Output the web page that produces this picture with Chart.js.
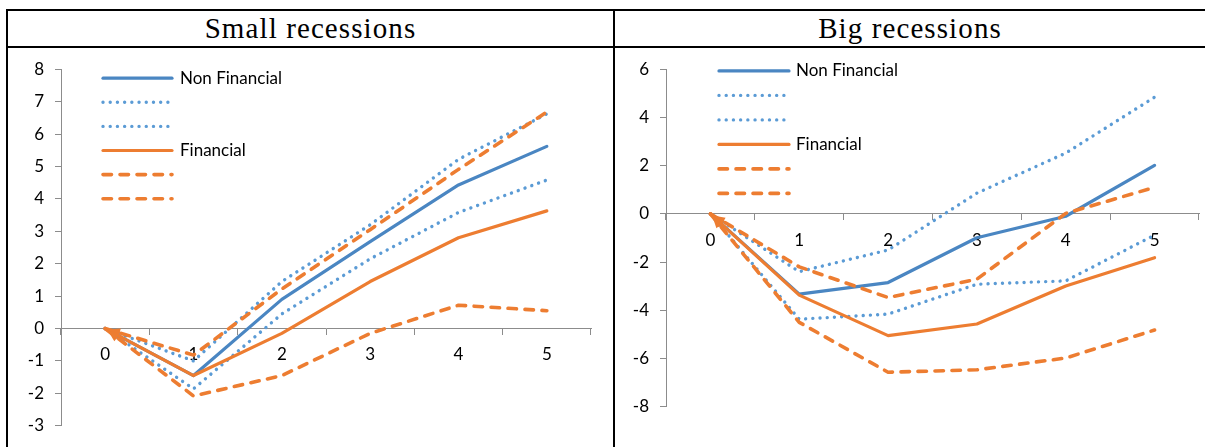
<!DOCTYPE html>
<html>
<head>
<meta charset="utf-8">
<script src="https://cdn.jsdelivr.net/npm/chart.js@4.4.1/dist/chart.umd.min.js"></script>
<style>
  html, body { margin: 0; padding: 0; background: #fff; }
  body { position: relative; width: 1205px; height: 447px; overflow: hidden; }
  .rule { position: absolute; background: #000; }
  .head {
    position: absolute; top: 11px; height: 35px;
    display: flex; align-items: center; justify-content: center;
    font-family: "Liberation Serif", serif; font-size: 29px; letter-spacing: 1.1px; color: #000;
  }
  .cell { position: absolute; top: 48px; height: 399px; }
  .cell canvas { display: block; }
</style>
</head>
<body>
<div class="rule" style="left:6px; top:9px; width:1199px; height:2px"></div>
<div class="rule" style="left:6px; top:46px; width:1199px; height:2px"></div>
<div class="rule" style="left:6px; top:9px; width:2px; height:438px"></div>
<div class="rule" style="left:613px; top:9px; width:2px; height:438px"></div>
<div class="head" style="left:8px; width:605px">Small recessions</div>
<div class="head" style="left:615px; width:590px">Big recessions</div>
<div class="cell" style="left:8px; width:605px"><canvas id="small" width="605" height="399"></canvas></div>
<div class="cell" style="left:615px; width:590px"><canvas id="big" width="590" height="399"></canvas></div>

<script>
// Years after the start of the recession
const years = ['0', '1', '2', '3', '4', '5'];

// Small recessions
const smallNonFin   = [0, -1.45, 0.90, 2.68, 4.43, 5.62];
const smallNonFinHi = [0, -1.00, 1.45, 3.20, 5.22, 6.62];
const smallNonFinLo = [0, -1.86, 0.45, 2.15, 3.58, 4.58];
const smallFin      = [0, -1.45, -0.15, 1.45, 2.80, 3.63];
const smallFinHi    = [0, -0.82, 1.22, 3.05, 4.91, 6.68];
const smallFinLo    = [0, -2.08, -1.45, -0.15, 0.72, 0.55];

// Big recessions
const bigNonFin   = [0, -3.33, -2.85, -0.99, -0.10, 2.01];
const bigNonFinHi = [0, -2.40, -1.50, 0.86, 2.52, 4.84];
const bigNonFinLo = [0, -4.37, -4.16, -2.92, -2.78, -0.88];
const bigFin      = [0, -3.37, -5.05, -4.57, -2.99, -1.82];
const bigFinHi    = [0, -2.20, -3.47, -2.71, 0.02, 1.10];
const bigFinLo    = [0, -4.50, -6.57, -6.47, -5.98, -4.82];

// Axis ranges and tick steps
const smallTicks = { min: -3, max: 8, step: 1 };
const bigTicks   = { min: -8, max: 6, step: 2 };

const BLUE = '#4a86c2';
const BLUE_LIGHT = '#5b9bd5';
const ORANGE = '#ed7d31';
const AXIS = '#8c8c8c';
const LABEL_FONT = { family: 'Lato', size: 17 };

const solid  = { borderWidth: 3.2, borderDash: [], borderCapStyle: 'round' };
const dotted = { borderWidth: 3.4, borderDash: [0.01, 7.2], borderCapStyle: 'round' };
const dashed = { borderWidth: 3.6, borderDash: [8.5, 8.5], borderCapStyle: 'round' };

function series(label, data, color, style, arrow) {
  return Object.assign({
    label, data,
    borderColor: color, backgroundColor: color,
    pointRadius: 0, pointHoverRadius: 0,
    tension: 0, fill: false,
    borderJoinStyle: 'round',
    startArrow: !!arrow
  }, style);
}

function buildSets(nf, nfHi, nfLo, f, fHi, fLo) {
  const sets = [
    series('Non Financial', nf, BLUE, solid),
    series('', nfHi, BLUE_LIGHT, dotted),
    series('', nfLo, BLUE_LIGHT, dotted),
    series('Financial', f, ORANGE, solid, true),
    series('', fHi, ORANGE, dashed, true),
    series('', fLo, ORANGE, dashed, true)
  ];
  // later series are painted on top
  sets.forEach((s, i) => { s.order = sets.length - i; });
  return sets;
}

// Legend drawn inside the plot area: line samples stacked vertically
const insetLegend = {
  id: 'insetLegend',
  afterDraw(chart, args, opts) {
    const ctx = chart.ctx;
    const area = chart.chartArea;
    const x0 = area.left + opts.dx;
    const y0 = area.top + opts.dy;
    chart.data.datasets.forEach((ds, i) => {
      const y = y0 + i * opts.rowGap;
      ctx.save();
      ctx.strokeStyle = ds.borderColor;
      ctx.lineWidth = ds.borderWidth;
      ctx.lineCap = ds.borderCapStyle;
      ctx.setLineDash(ds.borderDash);
      ctx.beginPath();
      ctx.moveTo(x0, y);
      ctx.lineTo(x0 + opts.sample, y);
      ctx.stroke();
      if (ds.label) {
        ctx.setLineDash([]);
        ctx.fillStyle = '#000';
        ctx.font = `${LABEL_FONT.size}px ${LABEL_FONT.family}`;
        ctx.textBaseline = 'middle';
        ctx.textAlign = 'left';
        ctx.fillText(ds.label, x0 + opts.sample + opts.textGap, y);
      }
      ctx.restore();
    });
  }
};

// Arrowhead at the first point of flagged series
const startArrows = {
  id: 'startArrows',
  afterDatasetsDraw(chart) {
    const ctx = chart.ctx;
    chart.data.datasets.forEach((ds, i) => {
      if (!ds.startArrow) return;
      const pts = chart.getDatasetMeta(i).data;
      if (pts.length < 2) return;
      const p0 = pts[0], p1 = pts[1];
      const dx = p1.x - p0.x, dy = p1.y - p0.y;
      const len = Math.hypot(dx, dy);
      const ux = dx / len, uy = dy / len;
      const L = 12, W = 4.5;
      const tx = p0.x + ux * 3, ty = p0.y + uy * 3;
      const bx = tx + ux * L, by = ty + uy * L;
      ctx.save();
      ctx.fillStyle = ds.borderColor;
      ctx.beginPath();
      ctx.moveTo(tx, ty);
      ctx.lineTo(bx - uy * W, by + ux * W);
      ctx.lineTo(bx + uy * W, by - ux * W);
      ctx.closePath();
      ctx.fill();
      ctx.restore();
    });
  }
};

function makeChart(id, sets, ticks, layout, legend) {
  return new Chart(document.getElementById(id), {
    type: 'line',
    data: { labels: years, datasets: sets },
    options: {
      responsive: false,
      animation: false,
      events: [],
      layout: { padding: layout.padding },
      plugins: {
        legend: { display: false },
        tooltip: { enabled: false },
        insetLegend: legend
      },
      scales: {
        x: {
          type: 'category',
          position: { y: 0 },
          offset: true,
          grid: {
            offset: true, drawOnChartArea: false, drawTicks: true,
            tickLength: 6, color: AXIS, lineWidth: 1
          },
          border: { display: true, color: AXIS, width: 1 },
          ticks: { color: '#000', font: LABEL_FONT, padding: 10, maxRotation: 0 }
        },
        y: {
          type: 'linear',
          position: 'left',
          min: ticks.min, max: ticks.max,
          grid: {
            drawOnChartArea: false, drawTicks: true,
            tickLength: 6, color: AXIS, lineWidth: 1
          },
          border: { display: true, color: AXIS, width: 1 },
          ticks: { stepSize: ticks.step, color: '#000', font: LABEL_FONT, padding: 11 },
          afterFit(scale) { scale.width = layout.axisWidth; }
        }
      }
    },
    plugins: [insetLegend, startArrows]
  });
}

makeChart('small',
  buildSets(smallNonFin, smallNonFinHi, smallNonFinLo, smallFin, smallFinHi, smallFinLo),
  smallTicks,
  { axisWidth: 53, padding: { left: 0, right: 22, top: 18.7, bottom: 17.7 } },
  { dx: 42, dy: 9, rowGap: 24.1, sample: 69, textGap: 8 });

makeChart('big',
  buildSets(bigNonFin, bigNonFinHi, bigNonFinLo, bigFin, bigFinHi, bigFinLo),
  bigTicks,
  { axisWidth: 51, padding: { left: 0, right: 6, top: 19.3, bottom: 40.3 } },
  { dx: 53, dy: 1.7, rowGap: 24.5, sample: 70, textGap: 7 });
</script>
</body>
</html>
